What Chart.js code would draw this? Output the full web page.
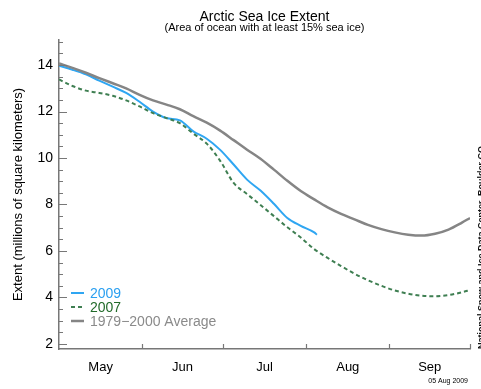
<!DOCTYPE html>
<html>
<head>
<meta charset="utf-8">
<script src="https://cdn.jsdelivr.net/npm/chart.js@4"></script>
<style>
  html, body { margin: 0; padding: 0; background: #fff; }
  #wrap { width: 481px; height: 389px; }
</style>
</head>
<body>
<div id="wrap"><canvas id="iceChart" width="481" height="389"></canvas></div>
<script>
// x values are days counted from 1 May (0 = May 1, 153 = Oct 1)
const days = [0, 5, 10, 15, 20, 25, 30, 35, 40, 45, 50, 55, 60, 65, 70, 75, 80, 85, 90, 95,
              100, 105, 110, 115, 120, 125, 130, 135, 140, 145, 150, 153];
const avgExtent = [14.07, 13.88, 13.67, 13.44, 13.22, 13.0, 12.72, 12.48, 12.3, 12.1, 11.8, 11.52,
                   11.18, 10.77, 10.36, 9.97, 9.5, 9.02, 8.58, 8.22, 7.88, 7.6, 7.36, 7.12,
                   6.94, 6.8, 6.7, 6.66, 6.74, 6.92, 7.22, 7.42];
const extent2007 = [13.38, 13.1, 12.9, 12.8, 12.68, 12.48, 12.22, 11.93, 11.72, 11.5, 11.05, 10.62,
                    9.88, 8.93, 8.45, 7.98, 7.5, 7.02, 6.58, 6.08, 5.7, 5.35, 5.02, 4.74,
                    4.5, 4.3, 4.16, 4.07, 4.05, 4.1, 4.22, 4.32];
const days2009 = [0, 5, 10, 15, 20, 25, 30, 35, 40, 45, 50, 55, 60, 65, 70, 75, 80, 85, 90, 95, 96];
const extent2009 = [13.97, 13.8, 13.6, 13.33, 13.07, 12.8, 12.42, 12.0, 11.72, 11.62, 11.15, 10.83,
                    10.35, 9.72, 9.07, 8.6, 8.03, 7.42, 7.08, 6.8, 6.7];

const monthNames = ['May', 'Jun', 'Jul', 'Aug', 'Sep'];
const monthStarts = [0, 31, 61, 92, 123, 153];
const yTickValues = [2, 4, 6, 8, 10, 12, 14];

const FONT = "'Liberation Sans', Arial, Helvetica, sans-serif";
const AXIS = '#777777';
const BLUE = '#2fa6f2';
const GREEN = '#3f7f52';
const GRAY = '#858585';

const toPoints = (xs, ys) => xs.map((x, i) => ({ x: x, y: ys[i] }));

// titles, legend, inward tick marks and small print
const decorations = {
    id: 'decorations',
    afterDraw(chart) {
        const { ctx, chartArea, scales } = chart;
        const xs = scales.x, ys = scales.y;
        ctx.save();

        // title
        const cx = (chartArea.left + chartArea.right) / 2;
        ctx.fillStyle = '#000';
        ctx.textAlign = 'center';
        ctx.textBaseline = 'alphabetic';
        ctx.font = '14px ' + FONT;
        ctx.fillText('Arctic Sea Ice Extent', cx, 21);
        ctx.font = '11px ' + FONT;
        ctx.fillText('(Area of ocean with at least 15% sea ice)', cx, 31);

        // tick marks pointing into the plot
        ctx.strokeStyle = AXIS;
        ctx.lineWidth = 1.2;
        ctx.beginPath();
        monthStarts.slice(1).forEach(d => {
            const px = Math.round(xs.getPixelForValue(d)) + 0.5;
            ctx.moveTo(px, chartArea.bottom);
            ctx.lineTo(px, chartArea.bottom - 5);
        });
        for (let v = 2; v <= 15; v += 0.5) {
            const py = Math.round(ys.getPixelForValue(v)) + 0.5;
            const len = (v % 2 === 0) ? 8 : 4;
            ctx.moveTo(chartArea.left, py);
            ctx.lineTo(chartArea.left + len, py);
        }
        ctx.stroke();

        // legend
        const items = [
            { text: '2009', color: BLUE, textColor: '#2a9ff0', dash: [], width: 2 },
            { text: '2007', color: GREEN, textColor: '#226b2a', dash: [4, 3], width: 2 },
            { text: '1979\u22122000 Average', color: GRAY, textColor: '#8a8a8a', dash: [], width: 2.5 }
        ];
        ctx.font = '14px ' + FONT;
        ctx.textAlign = 'left';
        ctx.textBaseline = 'middle';
        items.forEach((it, i) => {
            const y = 293 + i * 14;
            ctx.strokeStyle = it.color;
            ctx.lineWidth = it.width;
            ctx.setLineDash(it.dash);
            ctx.beginPath();
            ctx.moveTo(71, y);
            ctx.lineTo(84, y);
            ctx.stroke();
            ctx.setLineDash([]);
            ctx.fillStyle = it.textColor;
            ctx.fillText(it.text, 90, y + 1);
        });

        // date stamp
        ctx.fillStyle = '#000';
        ctx.font = '7px ' + FONT;
        ctx.textAlign = 'right';
        ctx.fillText('05 Aug 2009', 468, 381);

        // credit on the right edge, mostly cut off by the canvas edge
        ctx.translate(484, 349);
        ctx.rotate(-Math.PI / 2);
        ctx.font = 'bold 9px ' + FONT;
        ctx.textAlign = 'left';
        ctx.textBaseline = 'alphabetic';
        ctx.fillStyle = '#111';
        ctx.fillText('National Snow and Ice Data Center, Boulder CO', 0, 0);

        ctx.restore();
    }
};

const chart = new Chart(document.getElementById('iceChart'), {
    type: 'line',
    data: {
        datasets: [
            {
                label: '1979\u22122000 Average',
                data: toPoints(days, avgExtent),
                borderColor: GRAY,
                borderWidth: 2.5,
                pointRadius: 0,
                cubicInterpolationMode: 'monotone'
            },
            {
                label: '2007',
                data: toPoints(days, extent2007),
                borderColor: GREEN,
                borderWidth: 2,
                borderDash: [4, 3],
                pointRadius: 0,
                cubicInterpolationMode: 'monotone'
            },
            {
                label: '2009',
                data: toPoints(days2009, extent2009),
                borderColor: BLUE,
                borderWidth: 2,
                pointRadius: 0,
                cubicInterpolationMode: 'monotone'
            }
        ]
    },
    options: {
        responsive: false,
        animation: false,
        layout: { padding: { top: 40, right: 11, left: 0, bottom: 0 } },
        plugins: {
            legend: { display: false },
            title: { display: false },
            tooltip: { enabled: false }
        },
        scales: {
            x: {
                type: 'linear',
                min: 0,
                max: 153,
                afterBuildTicks: (scale) => {
                    scale.ticks = monthStarts.slice(0, 5).map((d, i) => ({ value: (d + monthStarts[i + 1]) / 2 }));
                },
                afterFit: (scale) => { scale.height = 40; },
                ticks: {
                    autoSkip: false,
                    maxRotation: 0,
                    padding: 11,
                    color: '#000',
                    font: { size: 13, family: FONT },
                    callback: (value, index) => monthNames[index]
                },
                grid: { drawOnChartArea: false, drawTicks: false },
                border: { color: AXIS, width: 1.5 }
            },
            y: {
                min: 1.78,
                max: 15.08,
                afterBuildTicks: (scale) => {
                    scale.ticks = yTickValues.map(v => ({ value: v }));
                },
                afterFit: (scale) => { scale.width = 59; },
                ticks: {
                    padding: 6,
                    color: '#000',
                    font: { size: 14, family: FONT }
                },
                title: {
                    display: true,
                    text: 'Extent (millions of square kilometers)',
                    color: '#000',
                    font: { size: 13, family: FONT },
                    padding: { top: 11, bottom: 0 }
                },
                grid: { drawOnChartArea: false, drawTicks: false },
                border: { color: AXIS, width: 1.5 }
            }
        }
    },
    plugins: [decorations]
});
</script>
</body>
</html>
